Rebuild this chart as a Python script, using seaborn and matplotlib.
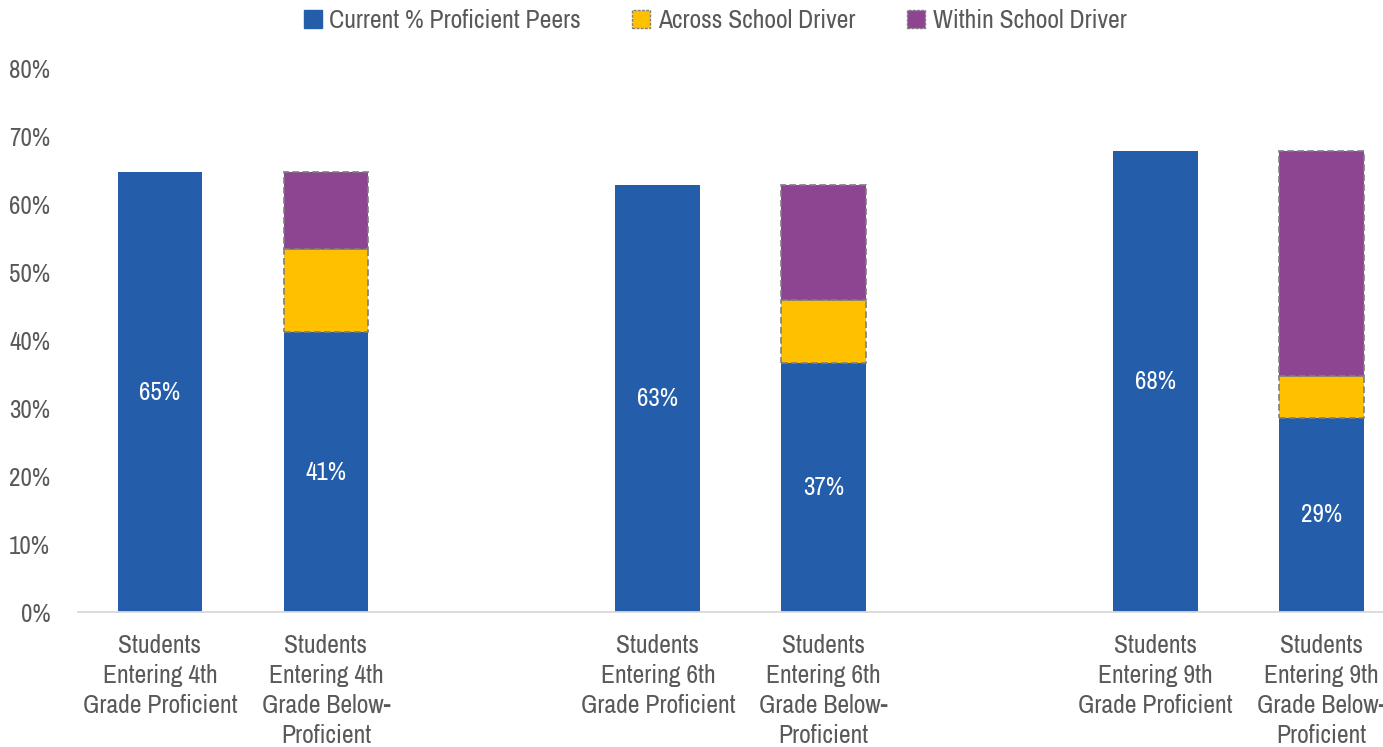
import matplotlib
matplotlib.use("Agg")
import matplotlib.pyplot as plt
import seaborn as sns
import pandas as pd
from matplotlib.patches import Patch

# ---- data ----
categories = [
    "Students\nEntering 4th\nGrade Proficient",
    "Students\nEntering 4th\nGrade Below-\nProficient",
    "Students\nEntering 6th\nGrade Proficient",
    "Students\nEntering 6th\nGrade Below-\nProficient",
    "Students\nEntering 9th\nGrade Proficient",
    "Students\nEntering 9th\nGrade Below-\nProficient",
]
positions = [0, 1, 3, 4, 6, 7]
current = [64.8, 41.2, 62.9, 36.7, 67.9, 28.6]
across = [0.0, 12.3, 0.0, 9.2, 0.0, 6.2]
within = [0.0, 11.3, 0.0, 17.0, 0.0, 33.1]
series_names = ["Current % Proficient Peers", "Across School Driver", "Within School Driver"]
y_ticks = [0, 10, 20, 30, 40, 50, 60, 70, 80]

BLUE = "#245DAA"
YELLOW = "#FFC000"
PURPLE = "#8E4591"
GREY = "#595959"

sns.set_style("white")
plt.rcParams["font.family"] = ["Archivo Narrow", "DejaVu Sans"]

fig = plt.figure(figsize=(13.83, 7.47), dpi=100)
ax = fig.add_axes([78 / 1383, (747 - 612) / 747, (1383 - 78) / 1383, (612 - 69) / 747])

df = pd.DataFrame({"pos": positions, "current": current, "across": across, "within": within})
df["b_within"] = df["current"] + df["across"]
below = df[df["across"] > 0].reset_index(drop=True)

BAR_W = 0.51
# full set spacing is 1; subset (below-proficient bars) spacing is 3
sub_w = BAR_W / 3

sns.barplot(data=df, x="pos", y="current", native_scale=True, color=BLUE,
            width=BAR_W, saturation=1, linewidth=0, ax=ax)
sns.barplot(data=below, x="pos", y="across", native_scale=True, color=YELLOW,
            width=sub_w, saturation=1, bottom=below["current"].values,
            edgecolor="#7F7F7F", linewidth=1.2, linestyle=(0, (4, 2)), ax=ax)
sns.barplot(data=below, x="pos", y="within", native_scale=True, color=PURPLE,
            width=sub_w, saturation=1, bottom=below["b_within"].values,
            edgecolor="#7F7F7F", linewidth=1.2, linestyle=(0, (4, 2)), ax=ax)

# data labels in blue segments
for p, v in zip(positions, current):
    ax.text(p, v / 2, f"{v:.0f}%", ha="center", va="center", color="white", fontsize=18)

ax.set_xlim(-0.494, 7.37)
ax.set_ylim(0, 80)
ax.set_yticks(y_ticks)
ax.set_yticklabels([f"{t}%" for t in y_ticks], color=GREY, fontsize=18)
ax.set_xticks(positions)
ax.set_xticklabels(categories, color=GREY, fontsize=18.5, linespacing=1.36, va="top")
ax.tick_params(axis="y", length=0, pad=20)
ax.tick_params(axis="x", length=0, pad=16)
ax.set_xlabel("")
ax.set_ylabel("")
for s in ["top", "right", "left"]:
    ax.spines[s].set_visible(False)
ax.spines["bottom"].set_color("#D9D9D9")
ax.spines["bottom"].set_linewidth(1.3)
ax.grid(False)

handles = [
    Patch(facecolor=BLUE, edgecolor=BLUE),
    Patch(facecolor=YELLOW, edgecolor="#7F7F7F", linestyle=(0, (2, 1))),
    Patch(facecolor=PURPLE, edgecolor="#7F7F7F", linestyle=(0, (2, 1))),
]
fig.legend(handles, series_names, loc="center", bbox_to_anchor=(0.517, 0.973), ncol=3,
           frameon=False, fontsize=18.5, labelcolor=GREY, handlelength=0.7, handleheight=0.7,
           handletextpad=0.3, columnspacing=2.0)

fig.savefig("out.png", dpi=100)
